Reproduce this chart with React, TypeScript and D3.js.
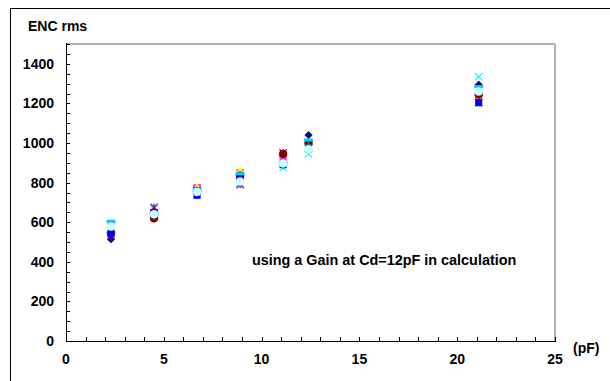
import React from "react";
import * as d3 from "d3";

const capacitance = [2.3, 4.5, 6.7, 8.9, 11.1, 12.4, 21.1];

const seriesNames = ["s1", "s2", "s3", "s4", "s5", "s6", "s7", "s8", "s9", "s10"];
const s1 = [514, 640, 745, 820, 890, 1040, 1295];
const s2 = [590, 650, 775, 850, 915, 978, 1215];
const s3 = [575, 660, 780, 862, 940, 985, 1240];
const s4 = [560, 665, 740, 800, 875, 945, 1335];
const s5 = [530, 675, 760, 790, 950, 975, 1205];
const s6 = [545, 620, 755, 835, 945, 1000, 1245];
const s7 = [555, 630, 760, 840, 905, 990, 1265];
const s8 = [540, 648, 735, 825, 890, 968, 1203];
const s9 = [605, 640, 765, 845, 900, 1015, 1285];
const s10 = [578, 640, 753, 805, 897, 968, 1260];
const seriesValues = [s1, s2, s3, s4, s5, s6, s7, s8, s9, s10];

const seriesColors = ["#000080", "#FF00FF", "#FFFF00", "#00FFFF", "#800080", "#800000", "#008080", "#0000FF", "#00CCFF", "#CCFFFF"];
const seriesMarkers = ["diamond", "square", "triangle", "x", "star", "circle", "plus", "square", "dash", "circle"];

const xTicks = [0, 5, 10, 15, 20, 25];
const yTicks = [0, 200, 400, 600, 800, 1000, 1200, 1400];

const W = 610;
const H = 381;
const L = 66, R = 555, T = 44, B = 341;

function Marker({ type, x, y, color }: { type: string; x: number; y: number; color: string }) {
  const s = 3.7;
  switch (type) {
    case "diamond":
      return <path d={`M${x},${y - s}L${x + s},${y}L${x},${y + s}L${x - s},${y}Z`} fill={color} stroke={color} strokeWidth={0.7} />;
    case "square":
      return <rect x={x - 3.2} y={y - 3.2} width={6.4} height={6.4} fill={color} stroke={color} strokeWidth={0.5} />;
    case "triangle":
      return <path d={`M${x},${y - s}L${x + s},${y + s * 0.8}L${x - s},${y + s * 0.8}Z`} fill={color} stroke={color} strokeWidth={0.5} />;
    case "x":
      return <path d={`M${x - s},${y - s}L${x + s},${y + s}M${x - s},${y + s}L${x + s},${y - s}`} stroke={color} strokeWidth={1.2} fill="none" />;
    case "star":
      return <path d={`M${x - s},${y - s}L${x + s},${y + s}M${x - s},${y + s}L${x + s},${y - s}M${x},${y - s}L${x},${y + s}`} stroke={color} strokeWidth={1.2} fill="none" />;
    case "circle":
      return <circle cx={x} cy={y} r={4} fill={color} stroke={color} strokeWidth={0.5} />;
    case "plus":
      return <path d={`M${x - s},${y}L${x + s},${y}M${x},${y - s}L${x},${y + s}`} stroke={color} strokeWidth={1.4} fill="none" />;
    case "dash":
      return <rect x={x - 4.5} y={y - 1.5} width={9} height={3} fill={color} />;
    default:
      return null;
  }
}

export default function App() {
  const xScale = d3.scaleLinear().domain([0, 25]).range([L, R]);
  const yScale = d3.scaleLinear().domain([0, 1500]).range([B, T]);
  const xMinor = d3.range(0, 26, 1);
  const yMinor = d3.range(0, 1501, 50);
  const font = "'Liberation Sans', Arial, sans-serif";
  const fs = 14;

  return (
    <svg width={W} height={H} style={{ position: "absolute", left: 0, top: 0, background: "#fff" }}>
      <rect x={10.5} y={8.5} width={W + 10} height={H + 10} fill="#fff" stroke="#000" strokeWidth={1} />
      <line x1={L} x2={R} y1={T} y2={T} stroke="#b0b0b0" strokeWidth={2} />
      <line x1={R} x2={R} y1={T} y2={B} stroke="#b0b0b0" strokeWidth={2} />
      <line x1={L + 0.5} x2={L + 0.5} y1={T - 1} y2={B + 0.5} stroke="#000" strokeWidth={1} />
      <line x1={L} x2={R + 1} y1={B + 0.5} y2={B + 0.5} stroke="#000" strokeWidth={1} />
      {yMinor.map((v) => (
        <line key={"yt" + v} x1={L} x2={L + 4} y1={Math.round(yScale(v)) + 0.5} y2={Math.round(yScale(v)) + 0.5} stroke="#000" />
      ))}
      {xMinor.map((v) => (
        <line key={"xt" + v} x1={Math.round(xScale(v)) + 0.5} x2={Math.round(xScale(v)) + 0.5} y1={B} y2={B - 4} stroke="#000" />
      ))}
      {yTicks.map((v) => (
        <text key={"yl" + v} x={54} y={yScale(v) + 5} textAnchor="end" fontFamily={font} fontWeight="bold" fontSize={fs}>
          {v}
        </text>
      ))}
      {xTicks.map((v) => (
        <text key={"xl" + v} x={xScale(v)} y={364} textAnchor="middle" fontFamily={font} fontWeight="bold" fontSize={fs}>
          {v}
        </text>
      ))}
      <text x={28} y={31} fontFamily={font} fontWeight="bold" fontSize={fs}>ENC rms</text>
      <text x={573} y={353} fontFamily={font} fontWeight="bold" fontSize={fs}>(pF)</text>
      <text x={252} y={265} fontFamily={font} fontWeight="bold" fontSize={14.4}>using a Gain at Cd=12pF in calculation</text>
      {seriesNames.map((name, si) => (
        <g key={name}>
          {seriesValues[si].map((v, i) => (
            <Marker key={i} type={seriesMarkers[si]} x={xScale(capacitance[i])} y={yScale(v)} color={seriesColors[si]} />
          ))}
        </g>
      ))}
    </svg>
  );
}
